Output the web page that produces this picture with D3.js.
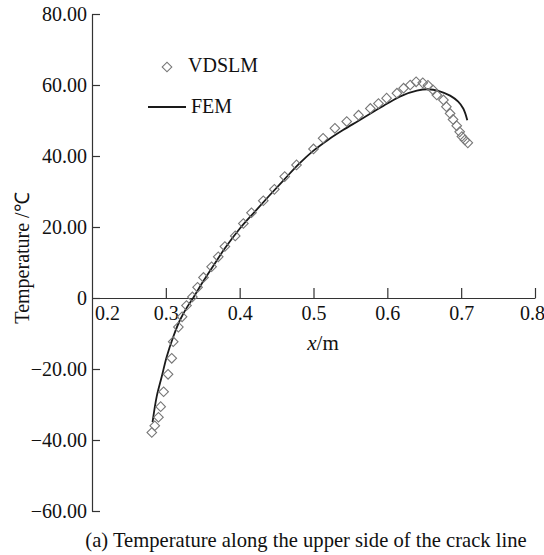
<!DOCTYPE html>
<html>
<head>
<meta charset="utf-8">
<script src="https://cdn.jsdelivr.net/npm/d3@7"></script>
<style>
  html, body { margin: 0; padding: 0; background: #fff; }
  svg { display: block; }
  text { font-family: "Liberation Serif", "Times New Roman", serif; fill: #111; }
</style>
</head>
<body>
<svg id="chart" width="544" height="555"></svg>
<script>
// ---- data ----
const vdslmX = [0.281, 0.285, 0.290, 0.293, 0.297, 0.303, 0.308, 0.310, 0.317, 0.322, 0.328, 0.336,
  0.343, 0.351, 0.362, 0.371, 0.380, 0.394, 0.405, 0.416, 0.432, 0.447, 0.461, 0.477, 0.500,
  0.513, 0.529, 0.545, 0.561, 0.577, 0.588, 0.599, 0.613, 0.622, 0.631, 0.639, 0.648, 0.655,
  0.662, 0.667, 0.676, 0.680, 0.685, 0.689, 0.694, 0.698, 0.701, 0.705, 0.709];
const vdslmT = [-37.9, -36.0, -33.6, -30.6, -26.4, -21.5, -17.0, -12.3, -8.2, -5.3, -2.1, 0.3,
  3.0, 5.8, 8.8, 11.6, 14.5, 17.5, 21.0, 24.0, 27.4, 30.6, 34.2, 37.5, 42.0,
  45.0, 47.8, 49.7, 51.5, 53.4, 54.8, 56.3, 57.7, 59.1, 60.0, 60.9, 60.6, 59.9,
  58.6, 57.2, 55.8, 53.9, 52.0, 50.3, 48.5, 46.8, 45.5, 44.5, 43.7];
const femX = [0.282, 0.2876, 0.2944, 0.3011, 0.3101, 0.3192, 0.329, 0.337, 0.350, 0.365, 0.380,
  0.400, 0.420, 0.440, 0.460, 0.480, 0.500, 0.520, 0.540, 0.560, 0.580, 0.600, 0.620, 0.640,
  0.655, 0.670, 0.685, 0.696, 0.703, 0.7083];
const femT = [-35.0, -27.8, -22.2, -16.6, -10.9, -6.2, -2.5, 0.0, 4.5, 9.3, 14.0,
  19.5, 24.2, 28.8, 33.3, 37.7, 41.5, 44.6, 47.3, 49.8, 52.3, 54.8, 57.0, 58.4,
  58.8, 58.3, 57.0, 55.3, 53.3, 50.1];
const xTicks = [0.2, 0.3, 0.4, 0.5, 0.6, 0.7, 0.8];
const yTicks = [80, 60, 40, 20, 0, -20, -40, -60];
const yTickLabels = ["80.00", "60.00", "40.00", "20.00", "0", "\u221220.00", "\u221240.00", "\u221260.00"];
const seriesNames = ["VDSLM", "FEM"];
const xTitleVar = "x";
const xTitleUnit = "/m";
const yTitle = "Temperature /\u2103";
const caption = "(a) Temperature along the upper side of the crack line";

// ---- chart ----
const svg = d3.select("#chart");
const axisColor = "#333";
const x = d3.scaleLinear().domain([0.2, 0.8]).range([92, 535]);
const y = d3.scaleLinear().domain([-60, 80]).range([511, 14]);

// x axis
const xAxis = svg.append("g")
  .attr("transform", `translate(0,${y(0)})`)
  .call(d3.axisBottom(x).tickValues(xTicks).tickSizeInner(-10).tickSizeOuter(0).tickPadding(8)
    .tickFormat(d3.format(".1f")));
xAxis.selectAll("text").attr("font-size", 20).attr("fill", "#111")
  .attr("font-family", '"Liberation Serif", serif')
  .attr("dx", d => d === 0.2 ? 15 : (d === 0.8 ? -3 : 0));
xAxis.selectAll(".tick").filter(d => d === 0.2).select("line").remove();
xAxis.selectAll("line, path").attr("stroke", axisColor).attr("stroke-width", 1.2);

// y axis
const yAxis = svg.append("g")
  .attr("transform", `translate(${x(0.2)},0)`)
  .call(d3.axisLeft(y).tickValues(yTicks).tickSizeInner(-8).tickSizeOuter(0).tickPadding(5)
    .tickFormat((d, i) => yTickLabels[i]));
yAxis.selectAll("text").attr("font-size", 20).attr("fill", "#111")
  .attr("font-family", '"Liberation Serif", serif');
yAxis.selectAll("line, path").attr("stroke", axisColor).attr("stroke-width", 1.2);

// titles
const xt = svg.append("text").attr("x", 323).attr("y", 350).attr("text-anchor", "middle").attr("font-size", 21);
xt.append("tspan").attr("font-style", "italic").text(xTitleVar);
xt.append("tspan").text(xTitleUnit);

svg.append("text")
  .attr("transform", `translate(29,258) rotate(-90)`)
  .attr("text-anchor", "middle").attr("font-size", 20)
  .text(yTitle);

svg.append("text").attr("x", 306).attr("y", 547).attr("text-anchor", "middle").attr("font-size", 20.6)
  .text(caption);

// FEM line
const femData = femX.map((d, i) => [d, femT[i]]);
svg.append("path")
  .datum(femData)
  .attr("fill", "none")
  .attr("stroke", "#1a1a1a")
  .attr("stroke-width", 1.8)
  .attr("d", d3.line().x(d => x(d[0])).y(d => y(d[1])).curve(d3.curveCatmullRom.alpha(0.5)));

// VDSLM diamonds
const diamond = d3.symbol().type(d3.symbolSquare).size(46);
const vData = vdslmX.map((d, i) => [d, vdslmT[i]]);
svg.append("g").selectAll("path")
  .data(vData)
  .join("path")
  .attr("d", diamond)
  .attr("transform", d => `translate(${x(d[0])},${y(d[1])}) rotate(45)`)
  .attr("fill", "none")
  .attr("stroke", "#777")
  .attr("stroke-width", 1.1);

// legend
svg.append("path").attr("d", diamond)
  .attr("transform", "translate(167,67) rotate(45)")
  .attr("fill", "none").attr("stroke", "#777").attr("stroke-width", 1.1);
svg.append("text").attr("x", 188).attr("y", 72).attr("font-size", 20).text(seriesNames[0]);
svg.append("line").attr("x1", 148).attr("x2", 186).attr("y1", 107).attr("y2", 107)
  .attr("stroke", "#1a1a1a").attr("stroke-width", 1.8);
svg.append("text").attr("x", 191).attr("y", 113).attr("font-size", 20).text(seriesNames[1]);
</script>
</body>
</html>
